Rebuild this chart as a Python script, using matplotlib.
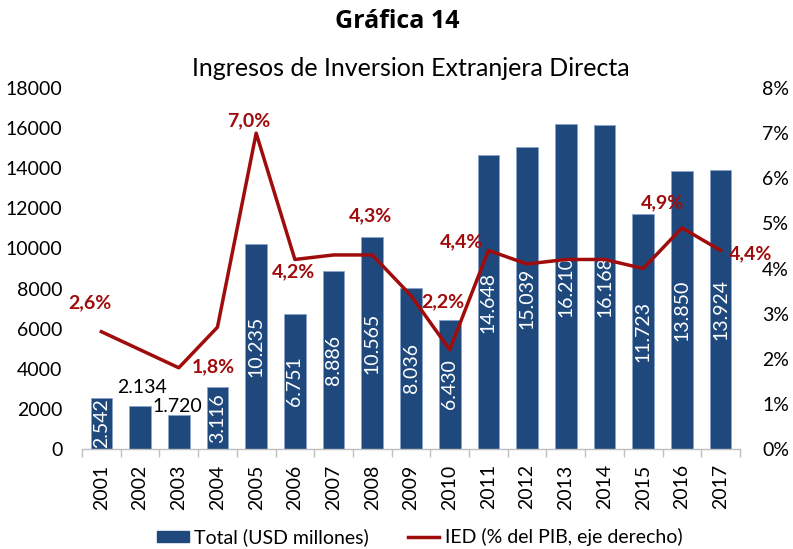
import matplotlib
matplotlib.use("Agg")
import matplotlib.pyplot as plt
from matplotlib.patches import Patch
from matplotlib.lines import Line2D

plt.rcParams['font.family'] = ['Lato', 'DejaVu Sans']

years = ['2001', '2002', '2003', '2004', '2005', '2006', '2007', '2008', '2009',
         '2010', '2011', '2012', '2013', '2014', '2015', '2016', '2017']
total_usd = [2542, 2134, 1720, 3116, 10235, 6751, 8886, 10565, 8036,
             6430, 14648, 15039, 16210, 16168, 11723, 13850, 13924]
bar_labels = ['2.542', '2.134', '1.720', '3.116', '10.235', '6.751', '8.886', '10.565', '8.036',
              '6.430', '14.648', '15.039', '16.210', '16.168', '11.723', '13.850', '13.924']
ied_pct = [2.6, 2.2, 1.8, 2.7, 7.0, 4.2, 4.3, 4.3, 3.4,
           2.2, 4.4, 4.1, 4.2, 4.2, 4.0, 4.9, 4.4]
pct_label_idx = [0, 2, 4, 5, 7, 9, 10, 15, 16]
pct_label_txt = ['2,6%', '1,8%', '7,0%', '4,2%', '4,3%', '2,2%', '4,4%', '4,9%', '4,4%']
pct_label_off = [(-11, 29), (35, 1), (-7, 12), (-1, -12), (-2, 39), (-7, 48), (-27, 9), (-19, 25), (30, -3)]

BLUE = '#1F497D'
RED = '#A00C0C'

fig = plt.figure(figsize=(7.93, 5.49), dpi=100)
ax = fig.add_axes([82/793, 1-449/549, (740-82)/793, (449-88)/549])
ax2 = ax.twinx()

x = list(range(len(years)))
bars = ax.bar(x, total_usd, width=0.56, color=BLUE, edgecolor='#8aa5cc', linewidth=0.6, zorder=2)
ax.set_xlim(-0.5, len(years) - 0.5)
ax.set_ylim(0, 18000)
ax.set_yticks(range(0, 18001, 2000))
ax.set_yticklabels([str(v) for v in range(0, 18001, 2000)], fontsize=14)
ax.set_xticks(x)
ax.set_xticklabels(years, rotation=90, fontsize=14)
ax.set_xticks([i + 0.5 for i in range(-1, len(years))], minor=True)
ax.tick_params(axis='x', which='major', length=0, pad=11)
ax.tick_params(axis='x', which='minor', length=6, color='#BFBFBF', width=1)
ax.tick_params(axis='y', length=0, pad=14)
for s in ['top', 'left', 'right']:
    ax.spines[s].set_visible(False)
ax.spines['bottom'].set_color('#BFBFBF')
ax.spines['bottom'].set_linewidth(1)

for i, (b, v, t) in enumerate(zip(bars, total_usd, bar_labels)):
    if i in (1, 2):
        continue
    ax.text(b.get_x() + b.get_width()/2, v/2, t, rotation=90, ha='center', va='center',
            color='white', fontsize=14, zorder=3)
# outside labels for 2002 and 2003
ax.annotate(bar_labels[1], (1, total_usd[1]), xytext=(2, 19), textcoords='offset pixels',
            ha='center', va='center', fontsize=14, color='black')
ax.annotate(bar_labels[2], (2, total_usd[2]), xytext=(-1, 8), textcoords='offset pixels',
            ha='center', va='center', fontsize=14, color='black')

ax2.plot(x, ied_pct, color=RED, linewidth=2.5, zorder=4)
ax2.set_ylim(0, 8)
ax2.set_yticks(range(0, 9))
ax2.set_yticklabels([f'{v}%' for v in range(0, 9)], fontsize=14)
ax2.tick_params(axis='y', length=0, pad=16)
for s in ['top', 'left', 'right', 'bottom']:
    ax2.spines[s].set_visible(False)

for idx, txt, off in zip(pct_label_idx, pct_label_txt, pct_label_off):
    ax2.annotate(txt, (idx, ied_pct[idx]), xytext=off, textcoords='offset pixels',
                 ha='center', va='center', fontsize=14, fontweight='bold', color=RED, zorder=5)

fig.text(397/793, 1-22/549, 'Gráfica 14', ha='center', va='center', fontsize=18, fontweight='bold',
         family=['Open Sans', 'DejaVu Sans'])
fig.text(411/793, 1-68/549, 'Ingresos de Inversion Extranjera Directa', ha='center', va='center',
         fontsize=18)

handles = [Patch(facecolor=BLUE, edgecolor=BLUE), Line2D([0], [0], color=RED, linewidth=2.5)]
fig.legend(handles, ['Total (USD millones)', 'IED (% del PIB, eje derecho)'],
           loc='center', bbox_to_anchor=(420/793, 1-537/549), ncol=2, frameon=False,
           fontsize=14, handlelength=1.6, handleheight=0.5, columnspacing=2.0, handletextpad=0.3)

fig.savefig('out.png', dpi=100)
